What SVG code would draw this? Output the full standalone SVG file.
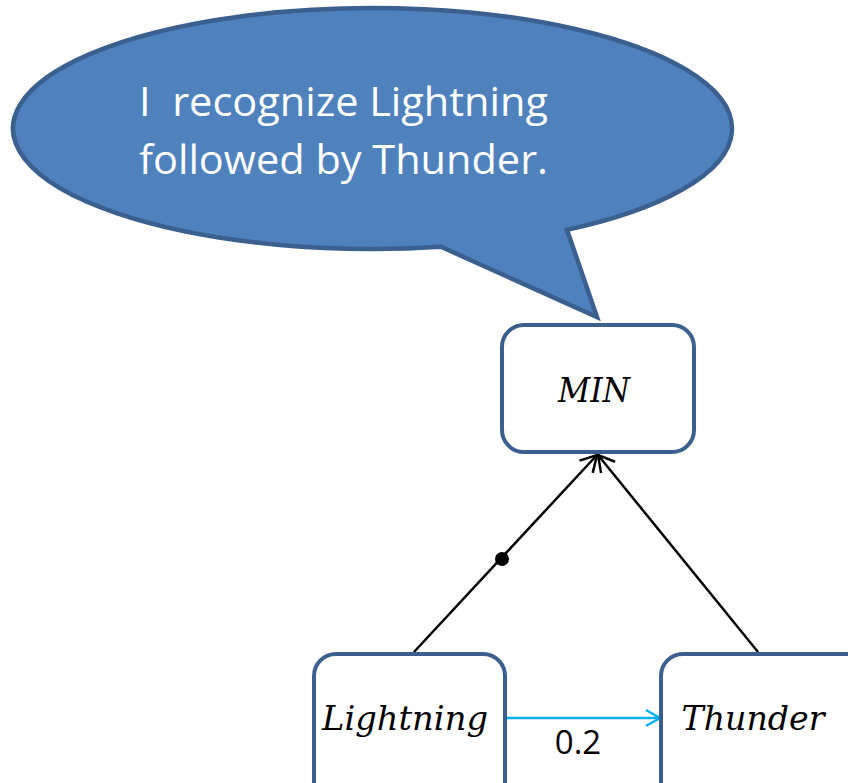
<svg xmlns="http://www.w3.org/2000/svg" width="848" height="783" viewBox="0 0 848 783">
  <style>
    .box { fill: #ffffff; stroke: #3b5f8f; stroke-width: 4; }
    .math { font-family: "DejaVu Serif", "Liberation Serif", serif; font-style: italic; font-size: 33px; fill: #000; }
    .bubble-text { font-family: "Open Sans", "Noto Sans", sans-serif; font-size: 41px; fill: #ffffff; }
    .edge { stroke: #000; stroke-width: 2.5; fill: none; }
  </style>
  <defs>
    <marker id="openArrow" viewBox="0 0 22 22" refX="20" refY="11" markerWidth="22" markerHeight="22" markerUnits="userSpaceOnUse" orient="auto">
      <path d="M4,2 L20,11 L4,20" fill="none" stroke="#000" stroke-width="2.5"/>
    </marker>
    <marker id="openArrowBlue" viewBox="0 0 20 20" refX="18" refY="10" markerWidth="20" markerHeight="20" markerUnits="userSpaceOnUse" orient="auto">
      <path d="M4,2 L18,10 L4,18" fill="none" stroke="#00b0f0" stroke-width="2.5"/>
    </marker>
  </defs>

  <!-- speech bubble: ellipse centred at (372.5,128.5) with a tail down to the MIN node -->
  <g id="bubble">
    <path d="M441,246.79 A359.5,120.5 0 1 1 567,229.84 L597,317 Z" fill="#4f81bd" stroke="#3b5f8f" stroke-width="4.5" stroke-linejoin="miter"/>
    <text class="bubble-text" x="139" y="116" textLength="409" lengthAdjust="spacingAndGlyphs" xml:space="preserve">I  recognize Lightning</text>
    <text class="bubble-text" x="139" y="174" textLength="409" lengthAdjust="spacingAndGlyphs">followed by Thunder.</text>
  </g>

  <!-- connectors -->
  <g id="connectors">
    <line class="edge" x1="414" y1="652" x2="597" y2="455" marker-end="url(#openArrow)"/>
    <circle cx="502" cy="559" r="7" fill="#000"/>
    <line class="edge" x1="758" y1="652" x2="598" y2="455" marker-end="url(#openArrow)"/>
    <line x1="507" y1="718" x2="660" y2="718" stroke="#00b0f0" stroke-width="2.5" marker-end="url(#openArrowBlue)"/>
    <text x="578" y="754" text-anchor="middle" font-family="Open Sans, Noto Sans, sans-serif" font-size="33" fill="#000">0.2</text>
  </g>

  <!-- nodes -->
  <g id="node-min">
    <rect class="box" x="502" y="325" width="192" height="127" rx="22"/>
    <text class="math" x="594" y="402" text-anchor="middle" textLength="72" lengthAdjust="spacingAndGlyphs">MIN</text>
  </g>
  <g id="node-lightning">
    <rect class="box" x="314" y="654" width="191" height="150" rx="22"/>
    <text class="math" x="405" y="730" text-anchor="middle" textLength="166" lengthAdjust="spacingAndGlyphs">Lightning</text>
  </g>
  <g id="node-thunder">
    <rect class="box" x="661" y="654" width="210" height="150" rx="22"/>
    <text class="math" x="753" y="730" text-anchor="middle" textLength="143" lengthAdjust="spacingAndGlyphs">Thunder</text>
  </g>
</svg>
